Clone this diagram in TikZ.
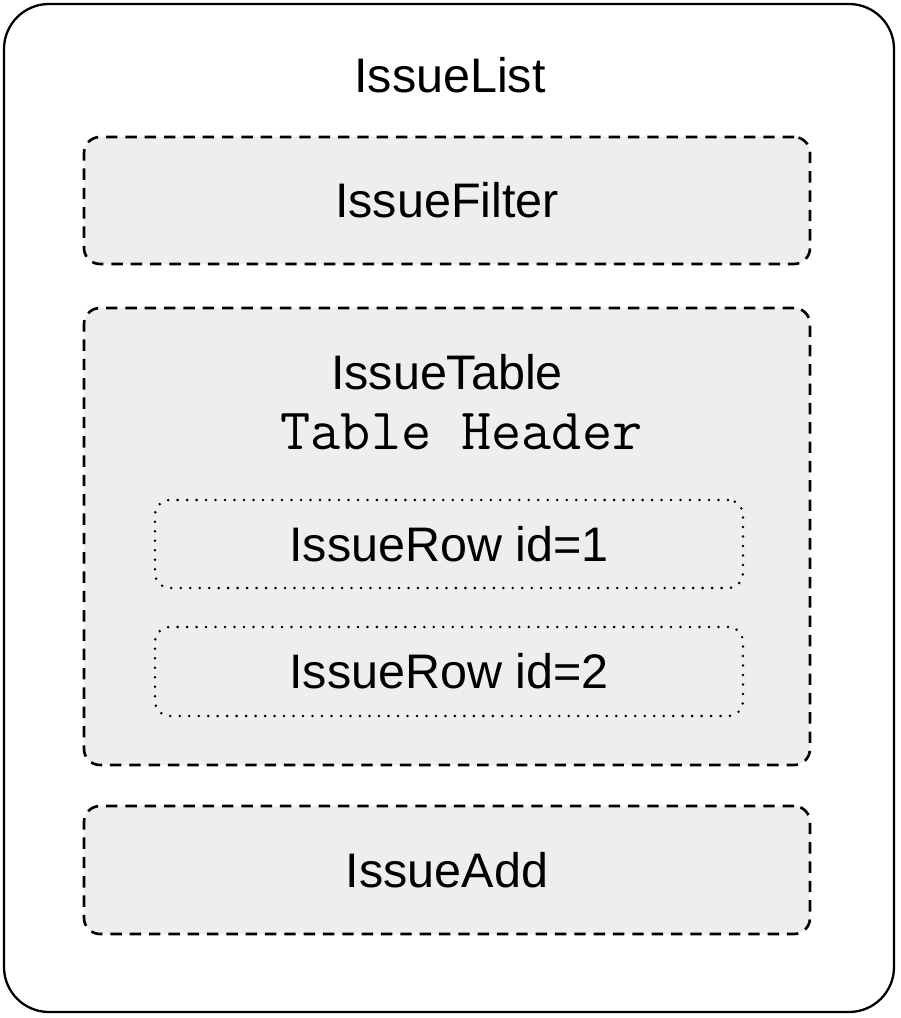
\documentclass[tikz,border=0pt]{standalone}
\usepackage{fontspec}
\setmainfont{Liberation Sans}
\usepackage{xcolor}
\definecolor{boxfill}{HTML}{EEEEEE}
\usetikzlibrary{positioning}

\begin{document}
\begin{tikzpicture}
  \tikzset{
    every node/.style={font=\fontsize{27.6}{32}\selectfont},
    outerbox/.style={draw,line width=1.3pt,rounded corners=0.9cm,minimum width=17.8cm,minimum height=20.16cm},
    compbox/.style={draw,fill=boxfill,line width=1.5pt,dash pattern=on 6.5pt off 4.5pt,rounded corners=0.32cm,minimum width=14.52cm},
    rowbox/.style={draw,line width=1.6pt,dash pattern=on 0pt off 5.4pt,line cap=round,rounded corners=0.3cm,minimum width=11.76cm}
  }
  \useasboundingbox (0,0) rectangle (18,-20.36);
  % outer component
  \node[outerbox] (list) at (8.98,-10.16) {};
  \node (listtitle) at (9.0,-1.5) {IssueList};
  % children
  \node[compbox,minimum height=2.54cm] (filter) at (8.94,-4.01) {IssueFilter};
  \node[compbox,minimum height=9.14cm] (table) at (8.94,-10.73) {};
  \node[compbox,minimum height=2.56cm] (add) at (8.94,-17.4) {IssueAdd};
  % table contents
  \node (tabletitle) at (8.94,-7.44) {IssueTable};
  \node[font=\fontsize{33.3}{38}\selectfont\ttfamily] (header) at (9.23,-8.64) {Table Header};
  \node[rowbox,minimum height=1.76cm] (row1) at (8.98,-10.88) {IssueRow id=1};
  \node[rowbox,minimum height=1.78cm] (row2) at (8.98,-13.43) {IssueRow id=2};
\end{tikzpicture}
\end{document}
